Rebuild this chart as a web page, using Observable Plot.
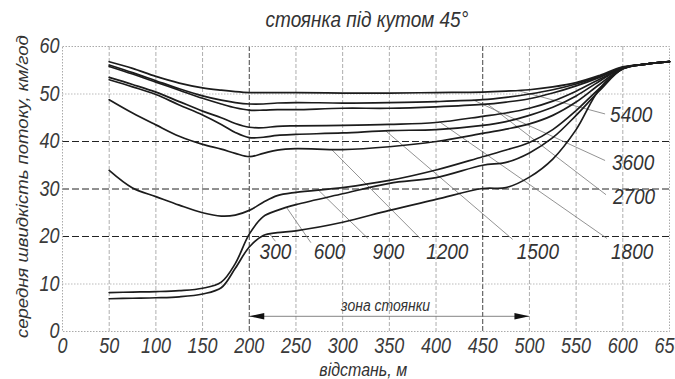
<!DOCTYPE html>
<html><head><meta charset="utf-8">
<script src="https://cdn.jsdelivr.net/npm/d3@7"></script>
<script src="https://cdn.jsdelivr.net/npm/@observablehq/plot@0.6"></script>
<style>
html,body{margin:0;padding:0;background:#fff;}
#chart{width:675px;height:379px;overflow:hidden;}
</style></head><body><div id="chart"></div>
<script>
// distance along the street, m
const distance = [50, 75, 100, 125, 150, 170, 185, 200, 215, 230, 250, 300, 350, 400, 450, 475, 500, 525, 550, 575, 600, 625, 650];
// traffic flow (series names)
const flows = [300, 600, 900, 1200, 1500, 1800, 2700, 3600, 5400];
// mean flow speed, km/h
const speed300  = [6.9, 7.0, 7.1, 7.3, 7.9, 9.2, 13.3, 17.8, 20.2, 20.8, 21.2, 23.0, 25.5, 27.8, 30.1, 30.3, 32.5, 36.3, 42.5, 51.0, 55.3, 56.3, 56.8];
const speed600  = [8.2, 8.3, 8.4, 8.6, 9.1, 10.4, 14.3, 20.5, 24.2, 25.5, 26.7, 29.0, 31.2, 32.4, 35.0, 35.6, 37.6, 40.8, 45.5, 50.7, 55.3, 56.3, 56.8];
const speed900  = [33.9, 30.2, 28.4, 26.6, 25.0, 24.3, 24.5, 25.5, 27.2, 28.6, 29.3, 30.3, 31.8, 34.0, 36.8, 38.2, 39.8, 42.5, 46.5, 51.2, 55.3, 56.3, 56.8];
const speed1200 = [48.8, 46.0, 43.5, 41.1, 39.4, 38.4, 37.5, 36.8, 37.5, 38.2, 38.5, 38.3, 38.9, 40.0, 41.7, 42.6, 43.7, 45.5, 48.3, 52.0, 55.4, 56.3, 56.8];
const speed1500 = [53.0, 51.5, 49.9, 47.7, 45.6, 43.6, 41.9, 40.8, 40.9, 41.3, 41.5, 41.8, 42.3, 42.5, 43.4, 44.2, 45.5, 47.2, 49.6, 52.7, 55.5, 56.3, 56.8];
const speed1800 = [53.5, 52.0, 50.4, 48.4, 46.4, 45.0, 43.8, 43.0, 42.9, 43.2, 43.3, 43.4, 43.6, 44.0, 45.3, 46.0, 47.0, 48.5, 50.6, 53.1, 55.5, 56.3, 56.8];
const speed2700 = [55.8, 54.2, 52.5, 50.8, 49.1, 47.9, 47.1, 46.6, 46.6, 46.7, 46.7, 47.0, 47.0, 47.3, 47.8, 48.3, 49.0, 50.2, 51.7, 53.5, 55.6, 56.3, 56.8];
const speed3600 = [56.1, 54.5, 52.8, 51.1, 49.6, 48.7, 48.2, 47.9, 47.9, 48.1, 48.2, 48.1, 48.2, 48.4, 48.8, 49.3, 50.0, 50.9, 52.1, 53.7, 55.6, 56.3, 56.8];
const speed5400 = [56.8, 55.4, 53.7, 52.3, 51.3, 50.8, 50.5, 50.3, 50.3, 50.3, 50.3, 50.2, 50.2, 50.3, 50.4, 50.6, 50.9, 51.5, 52.4, 53.9, 55.7, 56.3, 56.8];
const speeds = [speed300, speed600, speed900, speed1200, speed1500, speed1800, speed2700, speed3600, speed5400];

// axis ticks
const xTicks = [0, 50, 100, 150, 200, 250, 300, 350, 400, 450, 500, 550, 600, 650];
const yTicks = [0, 10, 20, 30, 40, 50, 60];
const yDashed = [20, 30, 40];
const yDotted = [10, 50];
const xDark = [200, 450];
const xLight = [50, 100, 150, 250, 300, 350, 400, 500, 550, 600];

// annotations: leader lines from curve to label
const leaderFromX = [222, 240, 274, 288, 346, 404, 455, 440, 487];
const leaderToX   = [228, 266, 327, 383, 482, 583, 582, 581, 581];
const leaderToY   = [19.0, 18.7, 19.6, 19.6, 19.4, 19.6, 28.8, 36.0, 45.8];
const labelX = [228, 286, 349, 412, 509, 610, 612, 611, 609];
const labelY = [16.8, 16.8, 16.8, 16.8, 16.8, 16.8, 28.3, 35.5, 45.6];

// parking zone
const zoneFrom = 200, zoneTo = 500, zoneY = 3.2;
const zoneText = "зона стоянки";
const titleText = "стоянка під кутом 45°";
const xLabel = "відстань, м";
const yLabel = "середня швидкість потоку, км/год";

const table = flows.flatMap((f, i) => distance.map((d, j) => ({flow: f, x: d, y: speeds[i][j]})));
function interp(arr, x) {
  for (let j = 0; j < distance.length - 1; j++) {
    if (x >= distance[j] && x <= distance[j+1]) {
      const t = (x - distance[j]) / (distance[j+1] - distance[j]);
      return arr[j] + t * (arr[j+1] - arr[j]);
    }
  }
  return arr[arr.length-1];
}
const leaders = flows.map((f, i) => ({x1: leaderFromX[i], y1: interp(speeds[i], leaderFromX[i]), x2: leaderToX[i], y2: leaderToY[i]}));
const labels = flows.map((f, i) => ({x: labelX[i], y: labelY[i], t: String(f)}));

const headLeft = {draw(ctx) { ctx.moveTo(0, 0); ctx.lineTo(15, -3.3); ctx.lineTo(15, 3.3); ctx.closePath(); }};
const headRight = {draw(ctx) { ctx.moveTo(0, 0); ctx.lineTo(-15, -3.3); ctx.lineTo(-15, 3.3); ctx.closePath(); }};

const svg = Plot.plot({
  width: 675, height: 379,
  marginLeft: 62, marginRight: 6, marginTop: 46, marginBottom: 48,
  style: {fontFamily: "'Liberation Sans', Arial, sans-serif", fontStyle: "italic", fontSize: "18px", color: "#3a3a3a", background: "#fff", overflow: "visible"},
  x: {domain: [0, 650]},
  y: {domain: [0, 60]},
  marks: [
    Plot.ruleX(xLight, {stroke: "#999", strokeWidth: 0.8, strokeDasharray: "4,2"}),
    Plot.ruleX(xDark, {stroke: "#444", strokeWidth: 1, strokeDasharray: "5,2"}),
    Plot.ruleY(yDotted, {stroke: "#aaa", strokeWidth: 0.8, strokeDasharray: "1.5,1.5"}),
    Plot.ruleY(yDashed, {stroke: "#222", strokeWidth: 1, strokeDasharray: "7,3"}),
    Plot.frame({stroke: "#aaa", strokeDasharray: "1.5,1.5"}),
    Plot.axisX({ticks: xTicks, tickSize: 0, tickPadding: 6, tickFormat: d => String(d), label: null, fontSize: 18}),
    Plot.axisY({ticks: yTicks, tickSize: 0, tickPadding: 3, tickFormat: d => String(d), label: null, fontSize: 18}),
    Plot.link(leaders, {x1: "x1", y1: "y1", x2: "x2", y2: "y2", stroke: "#777", strokeWidth: 0.8}),
    Plot.line(table, {x: "x", y: "y", z: "flow", stroke: "#1c1c1c", strokeWidth: 1.7, curve: "catmull-rom"}),
    Plot.text(labels, {x: "x", y: "y", text: "t", fontSize: 19, fill: "#333"}),
    Plot.ruleY([zoneY], {x1: zoneFrom, x2: zoneTo, stroke: "#777", strokeWidth: 0.9}),
    Plot.dot([zoneFrom], {x: d => d, y: () => zoneY, symbol: headLeft, fill: "#111", stroke: null}),
    Plot.dot([zoneTo], {x: d => d, y: () => zoneY, symbol: headRight, fill: "#111", stroke: null}),
    Plot.text([zoneText], {x: () => 346, y: () => 5.4, text: d => d, fontSize: 14, fill: "#333"}),
    Plot.text([titleText], {x: () => 326, y: () => 65.7, text: d => d, fontSize: 19, fill: "#333"}),
    Plot.text([xLabel], {x: () => 322, y: () => -8.0, text: d => d, fontSize: 16, fill: "#333"}),
    Plot.text([yLabel], {x: () => -42.5, y: () => 30.5, text: d => d, fontSize: 16, rotate: -90, fill: "#333"})
  ]
});

svg.querySelectorAll("text").forEach(t => {
  const tr = t.getAttribute("transform");
  if (tr && tr.includes("rotate")) t.setAttribute("transform", tr + " scale(1.16,1)");
  else if (tr) t.setAttribute("transform", tr + " scale(1,1.18)");
  else {
    const x = +(t.getAttribute("x") || 0), y = +(t.getAttribute("y") || 0);
    t.setAttribute("transform", `translate(${x},${y}) scale(1,1.18) translate(${-x},${-y})`);
  }
});
document.getElementById("chart").appendChild(svg);
</script>
</body></html>
